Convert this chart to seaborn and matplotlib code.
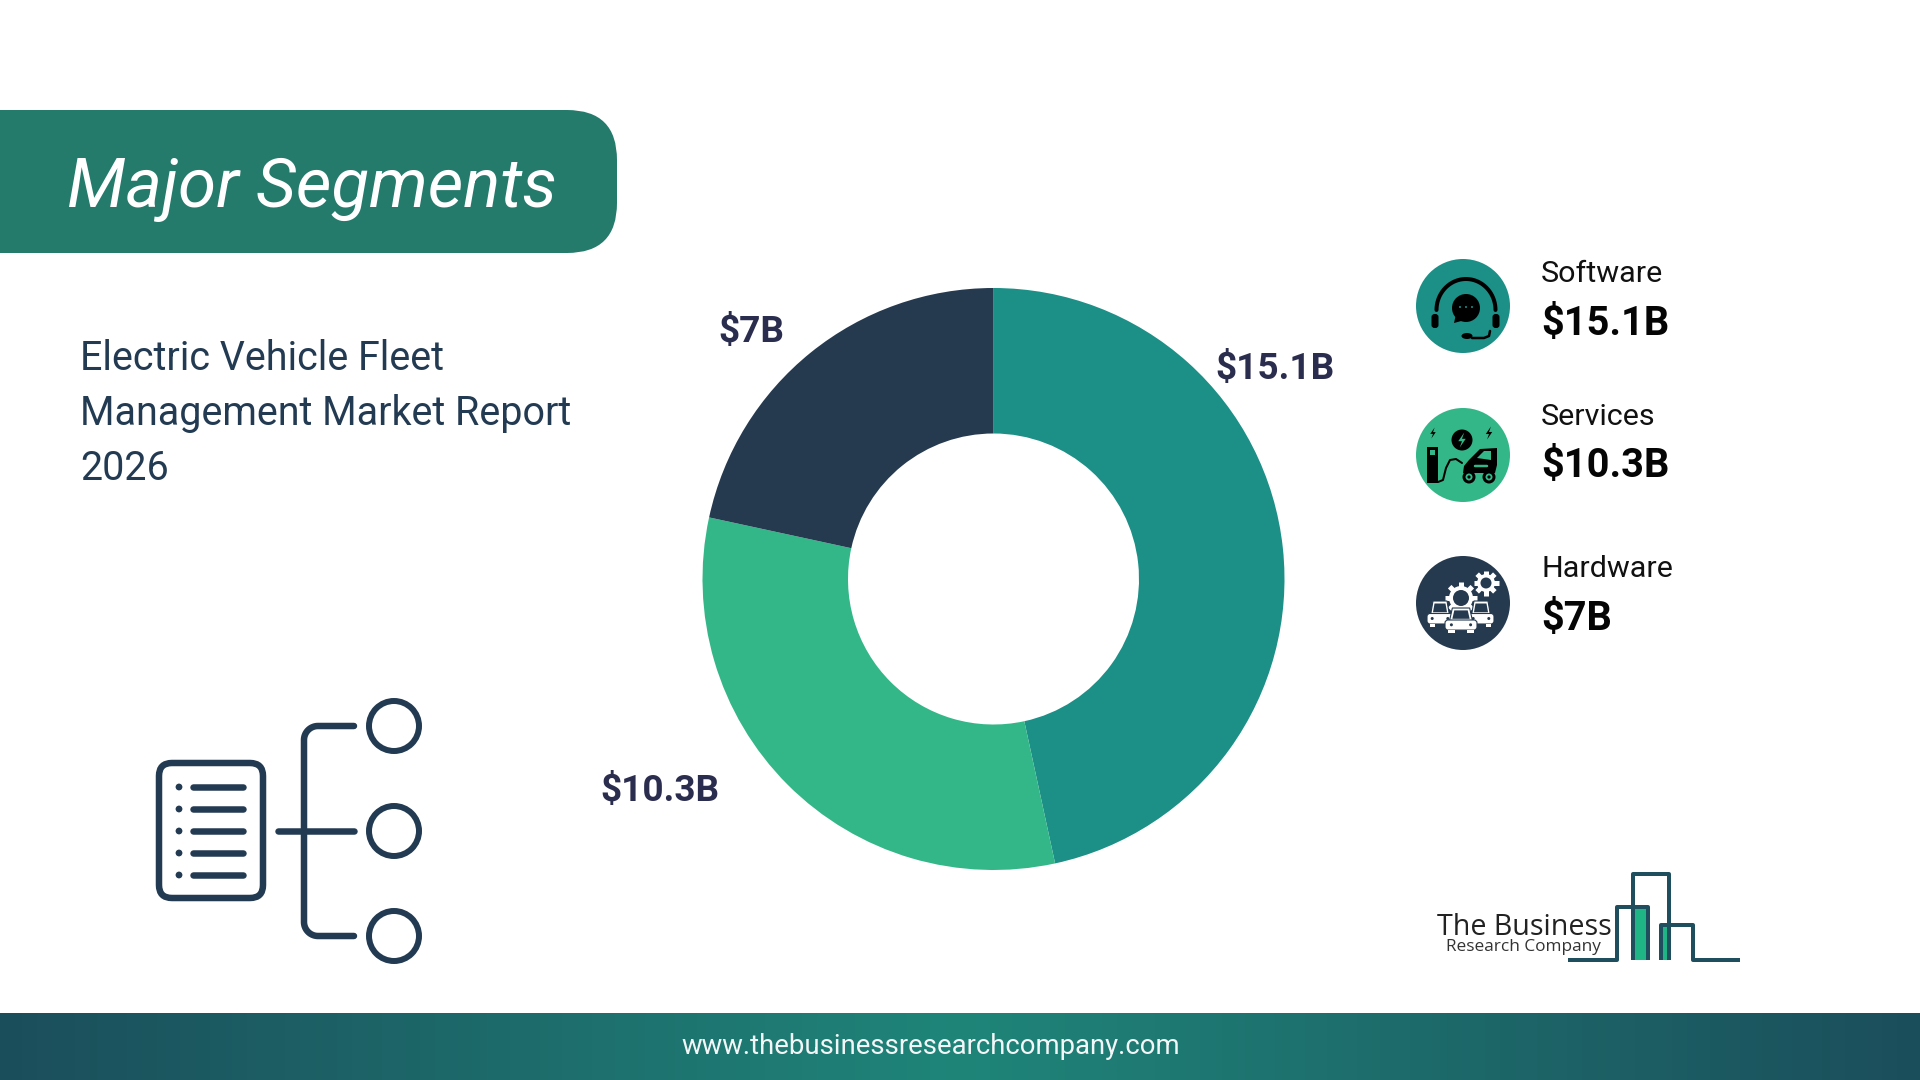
import matplotlib
matplotlib.use("Agg")
import matplotlib.pyplot as plt
import matplotlib.patches as mpatches
import numpy as np
import seaborn as sns

# data
segments = ["Software", "Services", "Hardware"]
values = [15.1, 10.3, 7]
value_labels = ["$15.1B", "$10.3B", "$7B"]
seg_colors = ["#1C8F87", "#34B788", "#25394F"]

title = "Major Segments"
subtitle = ["Electric Vehicle Fleet", "Management Market Report", "2026"]
footer = "www.thebusinessresearchcompany.com"

DARK = "#233B52"
LABEL = "#2B2D4F"
LOGO = "#1F4E5F"
GREEN = "#1FB585"

sns.set_theme(style="white", rc={"axes.edgecolor": "none"})
plt.rcParams["font.family"] = ["Roboto", "DejaVu Sans"]
palette = sns.color_palette(seg_colors)


def fs(px):
    return px * 0.72


fig = plt.figure(figsize=(19.2, 10.8), dpi=100, facecolor="white")
bg = fig.add_axes([0, 0, 1, 1])
bg.set_xlim(0, 1920)
bg.set_ylim(1080, 0)
bg.axis("off")

# banner
bg.add_patch(mpatches.FancyBboxPatch((-80, 110), 697, 143,
                                     boxstyle="round,pad=0,rounding_size=50",
                                     fc="#247B6B", ec="none"))
bg.text(67, 207, title, color="white", fontsize=fs(69.2), style="italic", va="baseline")

# subtitle
for line, y in zip(subtitle, [370, 425, 480]):
    bg.text(80, y, line, color=DARK, fontsize=fs(39.5), va="baseline")

# footer band
cmap = matplotlib.colors.LinearSegmentedColormap.from_list("band", ["#1B4E5B", "#1F8579", "#1B4E5B"])
bg.imshow(np.linspace(0, 1, 512).reshape(1, -1), cmap=cmap, aspect="auto",
          extent=(0, 1920, 1080, 1013), zorder=1)
bg.set_xlim(0, 1920)
bg.set_ylim(1080, 0)
bg.text(931, 1047, footer, color="#F2F6F6", fontsize=fs(27.5), ha="center", va="center", zorder=2)

# donut
R = 291
pad = 1.1
side = 2 * R * pad
donut = fig.add_axes([(993.5 - side / 2) / 1920, 1 - (579 + side / 2) / 1080, side / 1920, side / 1080])
donut.pie(values, colors=palette, startangle=90, counterclock=False, radius=1,
          wedgeprops={"width": 0.5, "linewidth": 0})
donut.set_xlim(-pad, pad)
donut.set_ylim(-pad, pad)
donut.patch.set_alpha(0)

# value labels around the donut
for lab, (x, y) in zip(value_labels, [(1275, 369), (660, 791), (751, 332)]):
    bg.text(x, y, lab, color=LABEL, fontsize=fs(37), fontweight="bold", ha="center", va="center")


# left icon
def rline(xs, ys, color=DARK, lw=6, z=3, cap="round"):
    bg.plot(xs, ys, color=color, lw=lw * 0.72, solid_capstyle=cap, solid_joinstyle="round", zorder=z)


bg.add_patch(mpatches.FancyBboxPatch((159, 763), 104, 135, boxstyle="round,pad=0,rounding_size=13",
                                     fc="none", ec=DARK, lw=fs(6.5)))
for y in [787, 809, 831, 853, 875]:
    rline([193, 243], [y, y], lw=6.5)
    bg.add_patch(mpatches.Circle((179, y), 3.4, fc=DARK, ec="none"))
rline([278, 354], [831, 831], lw=6.5)
t = np.linspace(0, np.pi / 2, 20)
rline([354] + list(318 - 14 * np.sin(t)) + list(304 + 14 * (1 - np.cos(t))) + [354],
      [726] + list(740 - 14 * np.cos(t)) + list(922 + 14 * np.sin(t)) + [936], lw=6.5)
for y in [726, 831, 936]:
    bg.add_patch(mpatches.Circle((394, y), 25, fc="none", ec=DARK, lw=fs(6)))

# legend block
legend_rows = [(306, 282, 335), (455, 425, 477), (603, 577, 630)]
for seg, lab, col, (cy, y1, y2) in zip(segments, value_labels, palette, legend_rows):
    bg.add_patch(mpatches.Circle((1463, cy), 47, fc=col, ec="none", zorder=2))
    bg.text(1541, y1, seg, color="#111111", fontsize=fs(30.5), va="baseline")
    bg.text(1541, y2, lab, color="#050505", fontsize=fs(39.7), fontweight="bold", va="baseline")

# headset icon
tt = np.linspace(np.pi, 2 * np.pi, 40)
rline(1466 + 29.5 * np.cos(tt), 310 + 31 * np.sin(tt), color="black", lw=4, z=4)
for x in [1435, 1496]:
    bg.add_patch(mpatches.FancyBboxPatch((x - 3.5, 314), 7, 14, boxstyle="round,pad=0,rounding_size=3", fc="black", ec="none", zorder=4))
bg.add_patch(mpatches.Circle((1466, 308), 14, fc="black", ec="none", zorder=4))
bg.add_patch(mpatches.Polygon([[1456, 314], [1454, 323], [1465, 320]], fc="black", ec="none", zorder=4))
for x in [1460, 1466, 1472]:
    bg.add_patch(mpatches.Circle((x, 307), 1, fc="#1C8F87", ec="none", zorder=5))
rline([1490, 1489, 1484, 1472], [331, 336, 338, 338], color="black", lw=2.5, z=4)
bg.add_patch(mpatches.Ellipse((1467, 336), 11, 6, fc="black", ec="none", zorder=4))

# charging icon
bg.add_patch(mpatches.Rectangle((1427, 447), 11, 36, fc="black", ec="none", zorder=4))
bg.add_patch(mpatches.Rectangle((1430, 450), 5, 5, fc="#34B788", ec="none", zorder=5))
bg.add_patch(mpatches.Circle((1462, 440), 10.5, fc="black", ec="none", zorder=4))


def bolt(cx, cy, s, color):
    bg.add_patch(mpatches.Polygon([[cx + 1.5 * s, cy - 5 * s], [cx - 2.5 * s, cy + 0.8 * s], [cx, cy + 0.8 * s],
                                   [cx - 1.5 * s, cy + 5 * s], [cx + 2.5 * s, cy - 0.8 * s], [cx, cy - 0.8 * s]],
                                  fc=color, ec="none", zorder=5))


bolt(1462, 440, 1.5, "#34B788")
bolt(1433, 433, 1.1, "black")
bolt(1489, 433, 1.3, "black")
rline([1438, 1443, 1446, 1450, 1456, 1462], [482, 480, 468, 460, 459, 463], color="black", lw=2, z=4)
bg.add_patch(mpatches.Polygon([[1464, 466], [1469, 460], [1480, 449], [1497, 448], [1497, 465], [1495, 473], [1463, 473]],
                              fc="black", ec="none", zorder=4))
bg.add_patch(mpatches.Polygon([[1477, 458], [1484, 451], [1491, 451], [1491, 460]], fc="#34B788", ec="none", zorder=5))
rline([1475, 1487], [466, 466], color="#34B788", lw=2.5, z=5)
for x in [1469, 1489]:
    bg.add_patch(mpatches.Circle((x, 477), 6.5, fc="black", ec="none", zorder=5))
    bg.add_patch(mpatches.Circle((x, 477), 3.5, fc="#34B788", ec="none", zorder=6))
    bg.add_patch(mpatches.Circle((x, 477), 1.6, fc="black", ec="none", zorder=7))


# fleet icon
def gear(cx, cy, r, hole, tooth):
    bg.add_patch(mpatches.Circle((cx, cy), r, fc="white", ec="none", zorder=4))
    for a in np.arange(0, 360, 45):
        rad = np.radians(a)
        rline([cx, cx + (r + tooth) * np.cos(rad)], [cy, cy + (r + tooth) * np.sin(rad)], color="white", lw=5, z=4, cap="butt")
    bg.add_patch(mpatches.Circle((cx, cy), hole, fc=seg_colors[2], ec="none", zorder=5))


def car(cx, cy, w, h, z):
    bg.add_patch(mpatches.Polygon([[cx - w * 0.36, cy + 1], [cx - w * 0.27, cy - h * 0.5], [cx + w * 0.27, cy - h * 0.5], [cx + w * 0.36, cy + 1]],
                                  fc="white", ec=seg_colors[2], lw=0.8, zorder=z))
    bg.add_patch(mpatches.Polygon([[cx - w * 0.27, cy - h * 0.05], [cx - w * 0.21, cy - h * 0.4], [cx + w * 0.21, cy - h * 0.4], [cx + w * 0.27, cy - h * 0.05]],
                                  fc=seg_colors[2], ec="none", zorder=z))
    bg.add_patch(mpatches.FancyBboxPatch((cx - w / 2, cy), w, h * 0.42, boxstyle="round,pad=0,rounding_size=3", fc="white", ec=seg_colors[2], lw=0.8, zorder=z))
    for s in [-0.3, 0.3]:
        bg.add_patch(mpatches.Rectangle((cx + s * w - w * 0.1, cy + h * 0.42), w * 0.2, h * 0.13, fc="white", ec="none", zorder=z))
        bg.add_patch(mpatches.Circle((cx + s * w, cy + h * 0.2), 1.5, fc=seg_colors[2], ec="none", zorder=z + 0.5))


gear(1461, 598, 12, 8, 4)
gear(1486, 583, 9, 5.5, 3.5)
car(1440, 613.5, 26, 25, 6)
car(1481, 613.5, 26, 25, 6)
car(1461, 620, 32, 24, 8)

# logo
rline([1568, 1617, 1617, 1648, 1648], [960, 960, 907, 907, 960], color=LOGO, lw=4, cap="butt")
rline([1633, 1633, 1669, 1669], [960, 874, 874, 960], color=LOGO, lw=4, cap="butt")
rline([1661, 1661, 1693, 1693, 1740], [960, 925, 925, 960, 960], color=LOGO, lw=4, cap="butt")
bg.add_patch(mpatches.Rectangle((1633, 907), 15, 53, fc=GREEN, ec="none", zorder=2))
bg.add_patch(mpatches.Rectangle((1661, 925), 8, 35, fc=GREEN, ec="none", zorder=2))
bg.text(1437, 935, "The Business", color="#222222", fontsize=fs(28.6), family="Open Sans", va="baseline")
bg.text(1446, 951, "Research Company", color="#333333", fontsize=fs(17.2), family="Open Sans", va="baseline")

fig.savefig("out.png", dpi=100)
